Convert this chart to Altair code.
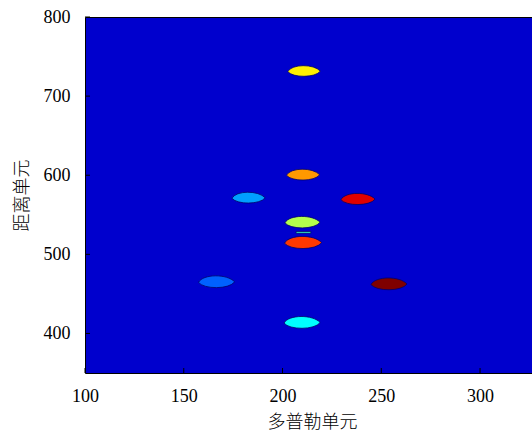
import altair as alt
import pandas as pd

# Blob centres (Doppler cell, range cell), horizontal extent (Doppler cells), intensity (0..1 of jet map)
doppler = [210.9, 210.4, 182.8, 238.2, 210.1, 210.4, 166.6, 253.9, 209.9]
rng = [731.6, 600.6, 571.5, 569.8, 540.5, 514.8, 465.2, 462.5, 413.8]
extent = [16.5, 16.8, 16.8, 17.3, 17.8, 18.8, 18.3, 18.3, 18.3]
level = [0.64, 0.725, 0.28, 0.905, 0.55, 0.82, 0.22, 1.0, 0.375]

# thin streak
streak_doppler = [210.6]
streak_rng = [527.8]
streak_extent = [7.5]
streak_level = [0.43]

x_ticks = [100, 150, 200, 250, 300]
y_ticks = [400, 500, 600, 700, 800]

W, H = 447, 356
x_scale = alt.Scale(domain=[100, 326.3], nice=False, zero=False)
y_scale = alt.Scale(domain=[350, 800], nice=False, zero=False)
color_scale = alt.Scale(
    domain=[0, 0.125, 0.375, 0.625, 0.875, 1.0],
    range=["#00007f", "#0000ff", "#00ffff", "#ffff00", "#ff0000", "#7f0000"],
    interpolate="rgb",
)
size_scale = alt.Scale(type="pow", exponent=2, domain=[0, 20], range=[0, (20 * W / 226.3) ** 2])

blobs = pd.DataFrame({"d": doppler, "r": rng, "e": extent, "v": level})
streak = pd.DataFrame({"d": streak_doppler, "r": streak_rng, "e": streak_extent, "v": streak_level})

lens = "M-1,0.03 C-0.75,-0.45 0.6,-0.45 1,0 C0.7,0.42 -0.7,0.42 -1,0.03 Z"
bar = "M-1,-0.12 L1,-0.12 L1,0.12 L-1,0.12 Z"

LF = "Liberation Serif"
TF = "Noto Sans CJK SC"

x_axis = alt.Axis(values=x_ticks, title="多普勒单元", ticks=False, domain=False,
                  labelPadding=14, titlePadding=8, grid=False, titleX=227,
                  labelFlush=False, labelOverlap=False,
                  labelFont=LF, labelFontSize=18, labelColor="black",
                  titleFont=TF, titleFontSize=18, titleFontWeight=300, titleColor="black")
y_axis = alt.Axis(values=y_ticks, title="距离单元", ticks=False, domain=False,
                  labelPadding=15, titlePadding=12, grid=False,
                  labelFlush=False, labelOverlap=False,
                  labelFont=LF, labelFontSize=18, labelColor="black",
                  titleFont=TF, titleFontSize=18, titleFontWeight=300, titleColor="black")

main = alt.Chart(blobs).mark_point(shape=lens, filled=True, opacity=1, stroke="#00006a",
                                   strokeWidth=1, strokeOpacity=0.8).encode(
    x=alt.X("d:Q", scale=x_scale, axis=x_axis),
    y=alt.Y("r:Q", scale=y_scale, axis=y_axis),
    size=alt.Size("e:Q", scale=size_scale, legend=None),
    fill=alt.Fill("v:Q", scale=color_scale, legend=None),
)

streak_layer = alt.Chart(streak).mark_point(shape=bar, filled=True, opacity=1, stroke="#00006a",
                                            strokeWidth=0.8).encode(
    x=alt.X("d:Q", scale=x_scale, axis=x_axis),
    y=alt.Y("r:Q", scale=y_scale, axis=y_axis),
    size=alt.Size("e:Q", scale=size_scale, legend=None),
    fill=alt.Fill("v:Q", scale=color_scale, legend=None),
)

xt = alt.Chart(pd.DataFrame({"t": x_ticks})).mark_rule(color="black", strokeWidth=1).encode(
    x=alt.X("t:Q", scale=x_scale, axis=x_axis), y=alt.value(H), y2=alt.value(H - 5))
yt = alt.Chart(pd.DataFrame({"t": y_ticks})).mark_rule(color="black", strokeWidth=1).encode(
    y=alt.Y("t:Q", scale=y_scale, axis=y_axis), x=alt.value(0), x2=alt.value(5))

chart = alt.layer(main, streak_layer, xt, yt).properties(
    width=W, height=H,
    autosize=alt.AutoSizeParams(type="none"),
    padding={"left": 85, "top": 17, "right": 0, "bottom": 63},
).configure_view(
    fill="#0000cd", stroke="black", strokeWidth=1,
).configure_axis(
    labelFont=LF, labelFontSize=18, labelColor="black",
    titleFont=TF, titleFontSize=18, titleFontWeight=300, titleColor="black",
)

chart.save("out.html", embed_options={"renderer": "svg", "actions": False})
